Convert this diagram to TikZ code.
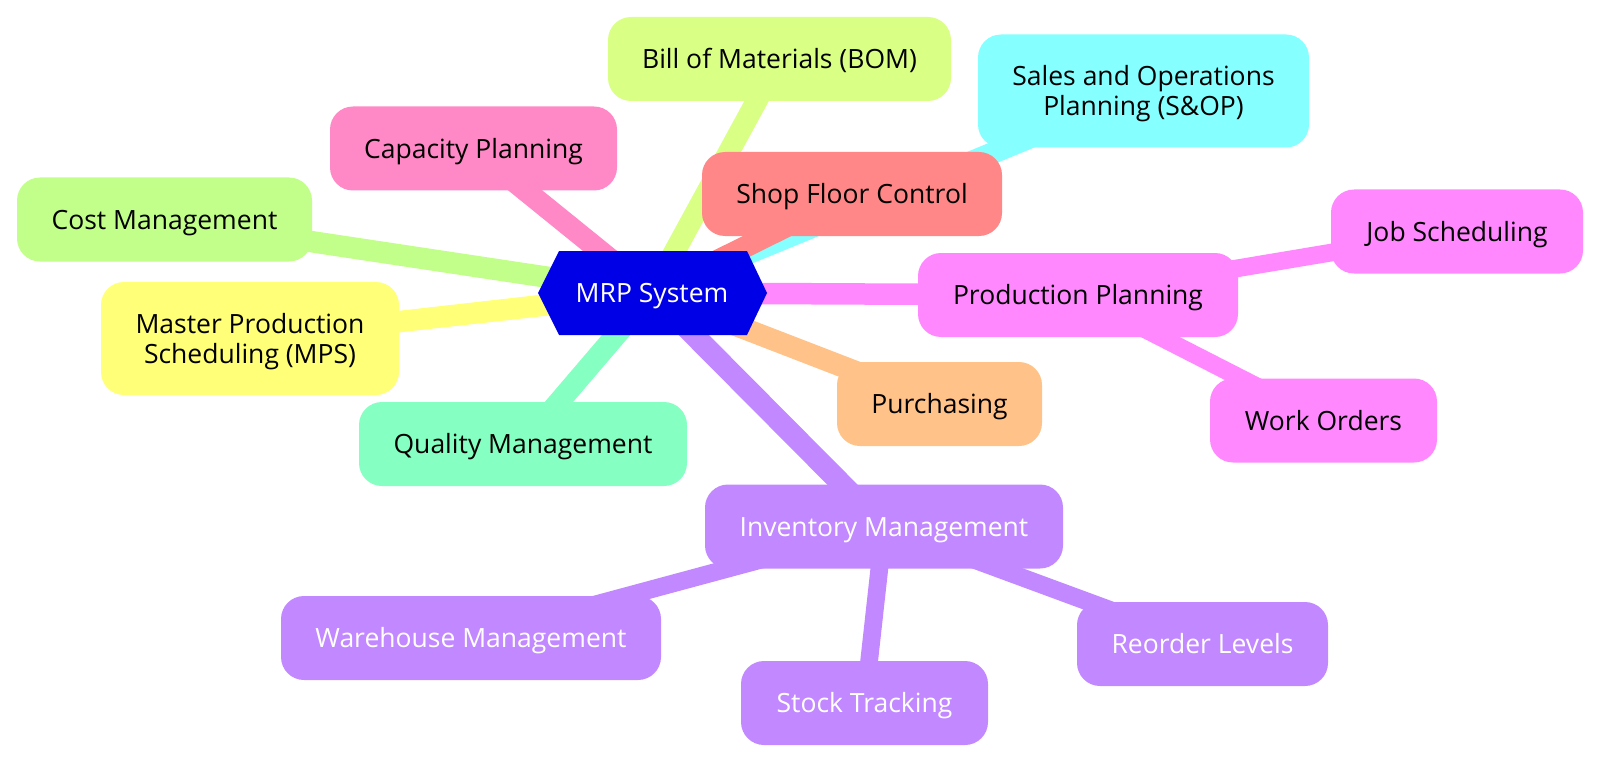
\documentclass[tikz,border=0pt]{standalone}
\usepackage{fontspec}
\setmainfont{Open Sans}
\definecolor{cRoot}{HTML}{0000E6}
\definecolor{cBOM}{HTML}{D9FF85}
\definecolor{cSales}{HTML}{85FFFF}
\definecolor{cCap}{HTML}{FF88C6}
\definecolor{cShop}{HTML}{FF8787}
\definecolor{cCost}{HTML}{C2FF8A}
\definecolor{cMPS}{HTML}{FFFF78}
\definecolor{cProd}{HTML}{FF88FF}
\definecolor{cPurch}{HTML}{FFC288}
\definecolor{cQual}{HTML}{85FFC2}
\definecolor{cInv}{HTML}{C288FF}
\pgfdeclarelayer{background}
\pgfsetlayers{background,main}
\begin{document}
\begin{tikzpicture}[x=1pt,y=-1pt,
  mmbox/.style={rounded corners=23pt, minimum height=84pt, inner sep=0pt, align=center,
    font=\fontsize{26.5}{30}\selectfont, text=black, text height=19.5pt, text depth=0pt},
  twoline/.style={minimum height=113pt, text height=49.5pt, text depth=0pt},
  edgeroot/.style={line width=21.5pt},
  edgechild/.style={line width=17.7pt}]
\useasboundingbox (0,0) rectangle (1600,762);
% root
\fill[cRoot] (538,293) -- (559,251) -- (747,251) -- (767,293) -- (747,335) -- (559,335) -- cycle;
\node[font=\fontsize{26.5}{30}\selectfont, text=white, inner sep=0pt, text height=19.5pt, text depth=0pt] (root) at (652,293) {MRP System};
% level 1
\node[mmbox, fill=cBOM, minimum width=343pt] (bom) at (779.5,59) {Bill of Materials (BOM)};
\node[mmbox, twoline, fill=cSales, minimum width=331pt] (sales) at (1143.5,91) {Sales and Operations\\Planning (S\&OP)};
\node[mmbox, fill=cCap, minimum width=287pt] (cap) at (473.5,148.5) {Capacity Planning};
\node[mmbox, fill=cShop, minimum width=300pt] (shop) at (852,194) {Shop Floor Control};
\node[mmbox, fill=cCost, minimum width=295pt] (cost) at (164.5,219.5) {Cost Management};
\node[mmbox, twoline, fill=cMPS, minimum width=298pt] (mps) at (250,338.5) {Master Production\\Scheduling (MPS)};
\node[mmbox, fill=cProd, minimum width=320pt] (prod) at (1078,295) {Production Planning};
\node[mmbox, fill=cPurch, minimum width=205pt] (purch) at (939.5,404) {Purchasing};
\node[mmbox, fill=cQual, minimum width=328pt] (qual) at (523,444) {Quality Management};
\node[mmbox, fill=cInv, text=white, minimum width=358pt] (inv) at (884,526.5) {Inventory Management};
% level 2
\node[mmbox, fill=cProd, minimum width=252pt] (job) at (1457,231.5) {Job Scheduling};
\node[mmbox, fill=cProd, minimum width=227pt] (work) at (1323.5,420.5) {Work Orders};
\node[mmbox, fill=cInv, text=white, minimum width=380pt] (ware) at (471,638) {Warehouse Management};
\node[mmbox, fill=cInv, text=white, minimum width=247pt] (stock) at (864.5,703) {Stock Tracking};
\node[mmbox, fill=cInv, text=white, minimum width=251pt] (reord) at (1202.5,644) {Reorder Levels};
% edges
\begin{pgfonlayer}{background}
\draw[edgeroot, cBOM] (root.center) -- (bom.center);
\draw[edgeroot, cSales] (root.center) -- (sales.center);
\draw[edgeroot, cCap] (root.center) -- (cap.center);
\draw[edgeroot, cShop] (root.center) -- (shop.center);
\draw[edgeroot, cCost] (root.center) -- (cost.center);
\draw[edgeroot, cMPS] (root.center) -- (mps.center);
\draw[edgeroot, cProd] (root.center) -- (prod.center);
\draw[edgeroot, cPurch] (root.center) -- (purch.center);
\draw[edgeroot, cQual] (root.center) -- (qual.center);
\draw[edgeroot, cInv] (root.center) -- (inv.center);
\draw[edgechild, cProd] (prod.center) -- (job.center);
\draw[edgechild, cProd] (prod.center) -- (work.center);
\draw[edgechild, cInv] (inv.center) -- (ware.center);
\draw[edgechild, cInv] (inv.center) -- (stock.center);
\draw[edgechild, cInv] (inv.center) -- (reord.center);
\end{pgfonlayer}
\end{tikzpicture}
\end{document}
